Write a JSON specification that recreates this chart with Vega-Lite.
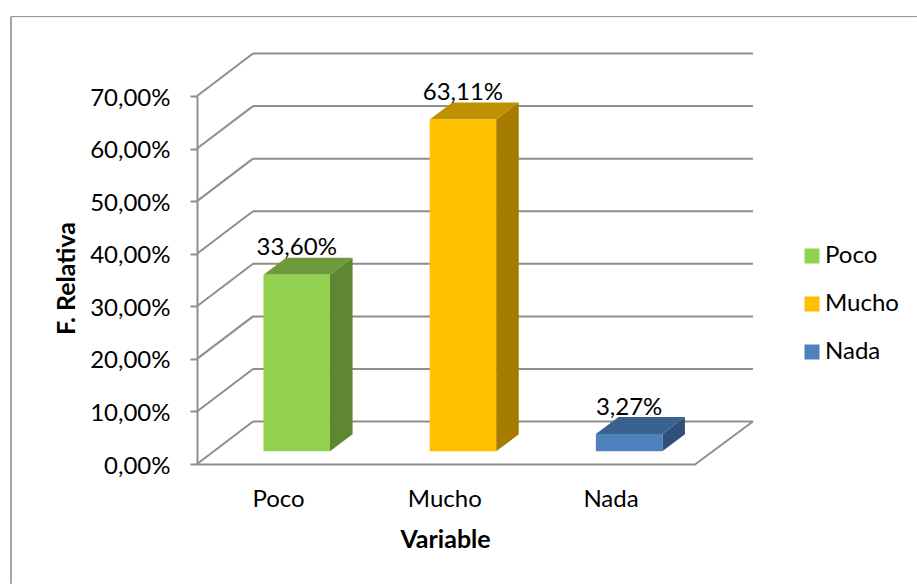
{
"$schema":"https://vega.github.io/schema/vega-lite/v6.json",
"autosize":"none",
"width":498.6,
"height":368,
"padding":{"left":197,"top":96,"right":221.4,"bottom":120},
"background":"#ffffff",
"config":{"locale":{"number":{"decimal":",","thousands":".","grouping":[3],"currency":["","€"]}},"view":{"stroke":null},"font":"Lato"},
"datasets":{
"bars":[{"Variable":"Poco","pos":1,"valor":0.336},{"Variable":"Mucho","pos":2,"valor":0.6311},{"Variable":"Nada","pos":3,"valor":0.0327}],
"ticks":[{"tick":0},{"tick":0.1},{"tick":0.2},{"tick":0.3},{"tick":0.4},{"tick":0.5},{"tick":0.6},{"tick":0.7}]
},
"layer":[
{"data":{"values":[{}]},"mark":{"type":"rule","color":"#8c8c8c","strokeWidth":1},"encoding":{
"x":{"datum":-0.619,"type":"quantitative","scale":{"domain":[0.5,3.5],"nice":false,"zero":false},"axis":null},
"x2":{"datum":4.832},
"y":{"datum":0.851,"type":"quantitative","scale":{"domain":[0,0.7],"nice":false,"zero":false},"axis":null}}},
{"data":{"values":[{}]},"mark":{"type":"rule","color":"#a6a6a6","strokeWidth":2},"encoding":{
"x":{"datum":-0.619,"type":"quantitative","axis":null},
"y":{"datum":0.851,"type":"quantitative","axis":null},
"y2":{"datum":-0.228}}},
{"data":{"name":"ticks"},
"transform":[{"calculate":"datum.tick+0.0808","as":"by"},{"calculate":"0.837","as":"bx"},{"calculate":"3.845","as":"bx2"}],
"mark":{"type":"rule","color":"#8e8e8e","strokeWidth":2},
"encoding":{
"x":{"field":"bx","type":"quantitative","title":"Variable","axis":{"values":[1,2,3],"labelExpr":"['Poco','Mucho','Nada'][datum.value-1]","ticks":false,"grid":false,"domainColor":"#8e8e8e","domainWidth":2,"labelColor":"#000000","labelFont":"Lato","labelFontSize":24,"labelPadding":23,"labelOffset":-2,"labelFlush":false,"titleFont":"Lato","titleFontSize":25,"titleFontWeight":"bold","titleColor":"#000000","titleX":248,"titleY":63}},
"x2":{"field":"bx2"},
"y":{"field":"by","type":"quantitative","title":"F. Relativa","axis":{"values":[0,0.1,0.2,0.3,0.4,0.5,0.6,0.7],"format":".2%","grid":false,"tickColor":"#8e8e8e","tickSize":7,"tickWidth":2,"domainColor":"#8e8e8e","domainWidth":2,"labelColor":"#000000","labelFont":"Lato","labelFontSize":24,"labelPadding":20,"labelOffset":2,"titleFont":"Lato","titleFontSize":25,"titleFontWeight":"bold","titleColor":"#000000","titleX":-118,"titleY":182}}}},
{"data":{"name":"ticks"},
"transform":[{"calculate":"datum.tick+0.0808","as":"by"},{"calculate":"0.837","as":"bx"},{"calculate":"0.5","as":"fx"}],
"mark":{"type":"rule","color":"#8e8e8e","strokeWidth":2},
"encoding":{
"x":{"field":"fx","type":"quantitative","axis":null},
"x2":{"field":"bx"},
"y":{"field":"tick","type":"quantitative","axis":null},
"y2":{"field":"by"}}},
{"data":{"values":[{}]},"mark":{"type":"rule","color":"#8e8e8e","strokeWidth":2},"encoding":{
"x":{"datum":3.5,"type":"quantitative","axis":null},
"x2":{"datum":3.845},
"y":{"datum":0,"type":"quantitative","axis":null},
"y2":{"datum":0.0808}}},
{"data":{"name":"bars"},
"transform":[{"calculate":"[0,1]","as":"step"},{"flatten":["step"]},{"calculate":"datum.pos+0.3+0.136*datum.step","as":"sx"},{"calculate":"datum.valor+0.0242+0.0323*datum.step","as":"sy"},{"calculate":"0.0242+0.0323*datum.step","as":"sy2"}],
"mark":{"type":"area","orient":"vertical"},
"encoding":{
"x":{"field":"sx","type":"quantitative","axis":null},
"y":{"field":"sy","type":"quantitative","axis":null},
"y2":{"field":"sy2"},
"color":{"field":"Variable","type":"nominal","legend":null,"scale":{"domain":["Poco","Mucho","Nada"],"range":["#5f8632","#a57c00","#2f5079"]}}}},
{"data":{"name":"bars"},
"transform":[{"calculate":"[0,1]","as":"step"},{"flatten":["step"]},{"calculate":"datum.pos-0.1+0.136*datum.step","as":"tx"},{"calculate":"datum.pos+0.3+0.136*datum.step","as":"tx2"},{"calculate":"datum.valor+0.0242+0.0323*datum.step","as":"ty"}],
"mark":{"type":"area","orient":"horizontal"},
"encoding":{
"x":{"field":"tx","type":"quantitative","axis":null},
"x2":{"field":"tx2"},
"y":{"field":"ty","type":"quantitative","axis":null},
"color":{"field":"Variable","type":"nominal","legend":null,"scale":{"domain":["Poco","Mucho","Nada"],"range":["#6f9a3c","#bf9000","#3b618e"]}}}},
{"data":{"name":"bars"},
"transform":[{"calculate":"datum.pos-0.1","as":"fx"},{"calculate":"datum.pos+0.3","as":"fx2"},{"calculate":"datum.valor+0.0242","as":"fy"},{"calculate":"0.0242","as":"fy2"}],
"mark":{"type":"rect"},
"encoding":{
"x":{"field":"fx","type":"quantitative","axis":null},
"x2":{"field":"fx2"},
"y":{"field":"fy","type":"quantitative","axis":null},
"y2":{"field":"fy2"},
"color":{"field":"Variable","type":"nominal","scale":{"domain":["Poco","Mucho","Nada"],"range":["#92d050","#ffc000","#4f81bd"]},
"legend":{"title":null,"orient":"none","legendX":603,"legendY":148,"padding":0,"symbolType":"square","symbolSize":225,"symbolStrokeWidth":0,"labelFont":"Lato","labelFontSize":24,"labelColor":"#000000","labelOffset":1,"rowPadding":24}}}},
{"data":{"name":"bars"},
"transform":[{"calculate":"datum.pos+0.1","as":"lx"}],
"mark":{"type":"text","baseline":"alphabetic","align":"center","dy":-32,"font":"Lato","fontSize":24,"color":"#000000"},
"encoding":{
"x":{"field":"lx","type":"quantitative","axis":null},
"y":{"field":"valor","type":"quantitative","axis":null},
"text":{"field":"valor","type":"quantitative","format":".2%"}}}
],
"resolve":{"scale":{"color":"independent"},"axis":{"x":"independent","y":"independent"}}
}
